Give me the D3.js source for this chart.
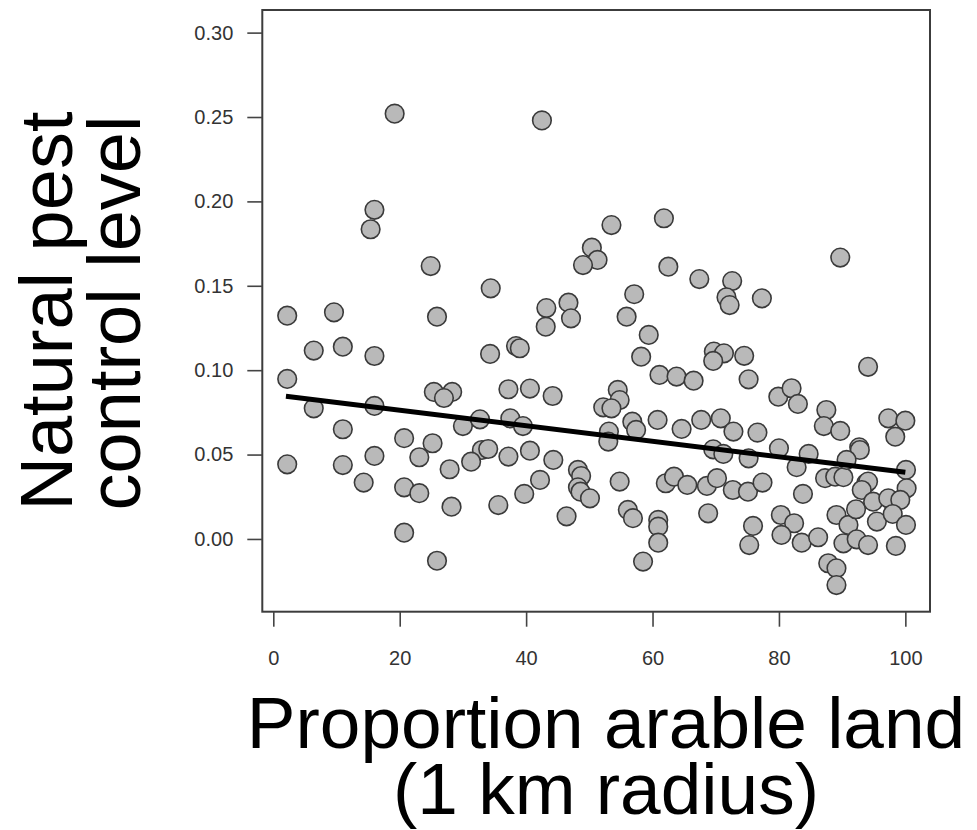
<!DOCTYPE html>
<html>
<head>
<meta charset="utf-8">
<script src="https://cdn.jsdelivr.net/npm/d3@7/dist/d3.min.js"></script>
<style>
  html, body { margin: 0; padding: 0; background: #ffffff; }
  svg { display: block; }
</style>
</head>
<body>
<svg id="chart" width="977" height="830"></svg>
<script>
// ---- data ----
const arableProp = [
  19.2, 42.5, 16.0, 15.4, 53.5, 61.8, 89.7, 24.9, 50.4, 51.3,
  49.0, 62.5, 67.4, 72.6, 71.7, 72.2, 77.3, 34.4, 57.1, 2.2,
  9.6, 25.9, 43.2, 46.7, 43.1, 47.1, 55.9, 59.4, 6.4, 11.0,
  16.0, 34.3, 38.4, 39.0, 58.2, 69.7, 71.3, 69.6, 74.5, 94.1,
  75.2, 61.1, 63.8, 66.5, 2.2, 6.4, 16.0, 25.4, 28.3, 27.0,
  37.2, 40.6, 44.2, 54.5, 54.8, 52.2, 53.5, 79.9, 82.0, 83.0,
  87.5, 11.0, 30.0, 32.7, 37.5, 39.5, 56.8, 57.4, 53.1, 53.0,
  60.8, 64.6, 67.7, 70.8, 72.8, 76.6, 87.1, 89.7, 97.3, 100.0,
  98.4, 92.7, 92.8, 2.2, 11.0, 16.0, 14.3, 20.7, 25.2, 23.1,
  20.7, 23.1, 27.9, 28.2, 20.7, 25.9, 33.0, 34.0, 31.3, 35.6,
  37.2, 40.6, 44.3, 42.2, 39.7, 46.4, 48.2, 48.7, 48.2, 48.6,
  50.1, 54.8, 56.1, 56.9, 58.5, 60.9, 60.9, 60.9, 62.1, 63.4,
  65.5, 68.6, 68.8, 69.6, 71.2, 75.2, 80.0, 82.8, 84.7, 87.3,
  88.9, 90.2, 90.7, 100.1, 100.2, 70.2, 72.7, 75.1, 77.4, 83.8,
  75.9, 75.3, 80.3, 82.4, 80.4, 83.6, 86.2, 87.8, 89.1, 89.1,
  89.1, 91.0, 92.2, 93.8, 94.1, 93.1, 94.9, 97.3, 99.2, 95.5,
  98.0, 100.1, 90.2, 92.3, 94.1, 98.5
];
const pestControl = [
  0.252, 0.248, 0.195, 0.1835, 0.186, 0.190, 0.1667, 0.1617, 0.1726, 0.1653,
  0.1623, 0.1613, 0.1540, 0.1528, 0.1432, 0.1386, 0.1426, 0.1485, 0.1450, 0.1323,
  0.1343, 0.1317, 0.1368, 0.1400, 0.1258, 0.1307, 0.1317, 0.1209, 0.1116, 0.1139,
  0.1084, 0.1096, 0.1143, 0.1130, 0.1080, 0.1110, 0.1100, 0.1055, 0.1085, 0.1020,
  0.0946, 0.0972, 0.0962, 0.0938, 0.0948, 0.0774, 0.0788, 0.0871, 0.0871, 0.0835,
  0.0887, 0.0891, 0.0847, 0.0883, 0.0823, 0.0780, 0.0774, 0.0843, 0.0893, 0.0800,
  0.0764, 0.0650, 0.0669, 0.0709, 0.0715, 0.0669, 0.0695, 0.0646, 0.0636, 0.0577,
  0.0705, 0.0652, 0.0705, 0.0715, 0.0636, 0.0630, 0.0669, 0.0640, 0.0715, 0.0701,
  0.0606, 0.0543, 0.0527, 0.0442, 0.0438, 0.0492, 0.0334, 0.0597, 0.0567, 0.0484,
  0.0306, 0.0271, 0.0413, 0.0191, 0.0037, -0.0129, 0.0527, 0.0533, 0.0458, 0.0201,
  0.0488, 0.0523, 0.0468, 0.0350, 0.0267, 0.0134, 0.0409, 0.0373, 0.0306, 0.0280,
  0.0241, 0.0340, 0.0172, 0.0123, -0.0134, 0.0113, 0.0073, -0.0022, 0.0330, 0.0369,
  0.0320, 0.0314, 0.0152, 0.0531, 0.0504, 0.0478, 0.0537, 0.0425, 0.0504, 0.0360,
  0.0369, 0.0366, 0.0468, 0.0409, 0.0300, 0.0360, 0.0290, 0.0280, 0.0334, 0.0267,
  0.0077, -0.0036, 0.0142, 0.0093, 0.0024, -0.0022, 0.0010, -0.0144, -0.0174, -0.0273,
  0.0142, 0.0083, 0.0176, 0.0330, 0.0340, 0.0290, 0.0221, 0.0241, 0.0231, 0.0103,
  0.0148, 0.0083, -0.0026, -0.0002, -0.0036, -0.0041
];
// fitted regression line (end points)
const fitX = [2, 100];
const fitY = [0.0845, 0.0395];
// ticks
const xTicks = [0, 20, 40, 60, 80, 100];
const yTicks = [0.00, 0.05, 0.10, 0.15, 0.20, 0.25, 0.30];
const xTitle = ["Proportion arable land", "(1 km radius)"];
const yTitle = ["Natural pest", "control level"];

// ---- drawing ----
(function () {
const svg = d3.select("#chart");
const mLeft = 262.3, mRight = 930, mTop = 10, mBottom = 611.7;

const x = d3.scaleLinear().domain([-1.74, 103.9]).range([mLeft, mRight]);
const y = d3.scaleLinear().domain([-0.0431, 0.3134]).range([mBottom, mTop]);

const font = "'Liberation Sans', Arial, Helvetica, sans-serif";

// points
const pts = arableProp.map((v, i) => ({ x: v, y: pestControl[i] }));
svg.append("g")
  .selectAll("circle")
  .data(pts)
  .enter().append("circle")
  .attr("cx", d => x(d.x))
  .attr("cy", d => y(d.y))
  .attr("r", 9.3)
  .attr("fill", "#b9b9b9")
  .attr("stroke", "#3a3a3a")
  .attr("stroke-width", 1.6);

// regression line
svg.append("path")
  .datum(fitX.map((v, i) => [v, fitY[i]]))
  .attr("d", d3.line().x(d => x(d[0])).y(d => y(d[1])))
  .attr("fill", "none")
  .attr("stroke", "#000")
  .attr("stroke-width", 5);

// frame
svg.append("rect")
  .attr("x", mLeft).attr("y", mTop)
  .attr("width", mRight - mLeft).attr("height", mBottom - mTop)
  .attr("fill", "none")
  .attr("stroke", "#3c3c3c")
  .attr("stroke-width", 2);

// axes
const xAxis = d3.axisBottom(x).tickValues(xTicks).tickSize(15).tickPadding(24)
  .tickFormat(d3.format("d"));
const gx = svg.append("g").attr("transform", `translate(0,${mBottom})`).call(xAxis);
gx.select(".domain").remove();
gx.selectAll(".tick line").attr("stroke", "#444").attr("stroke-width", 1.6);
gx.selectAll(".tick text")
  .attr("fill", "#333")
  .style("font-family", font)
  .style("font-size", "20px");

const yAxis = d3.axisLeft(y).tickValues(yTicks).tickSize(15).tickPadding(14)
  .tickFormat(d3.format(".2f"));
const gy = svg.append("g").attr("transform", `translate(${mLeft},0)`).call(yAxis);
gy.select(".domain").remove();
gy.selectAll(".tick line").attr("stroke", "#444").attr("stroke-width", 1.6);
gy.selectAll(".tick text")
  .attr("fill", "#333")
  .style("font-family", font)
  .style("font-size", "20px");

// x title
svg.append("text")
  .attr("x", 606).attr("y", 748)
  .attr("text-anchor", "middle")
  .style("font-family", font).style("font-size", "73px")
  .attr("fill", "#000")
  .text(xTitle[0]);
svg.append("text")
  .attr("x", 606).attr("y", 814)
  .attr("text-anchor", "middle")
  .style("font-family", font).style("font-size", "73px")
  .attr("fill", "#000")
  .text(xTitle[1]);

// y title
svg.append("text")
  .attr("transform", "translate(72,311) rotate(-90)")
  .attr("text-anchor", "middle")
  .style("font-family", font).style("font-size", "74px")
  .attr("fill", "#000")
  .text(yTitle[0]);
svg.append("text")
  .attr("transform", "translate(140,313) rotate(-90)")
  .attr("text-anchor", "middle")
  .style("font-family", font).style("font-size", "74px")
  .attr("fill", "#000")
  .text(yTitle[1]);
})();
</script>
</body>
</html>
